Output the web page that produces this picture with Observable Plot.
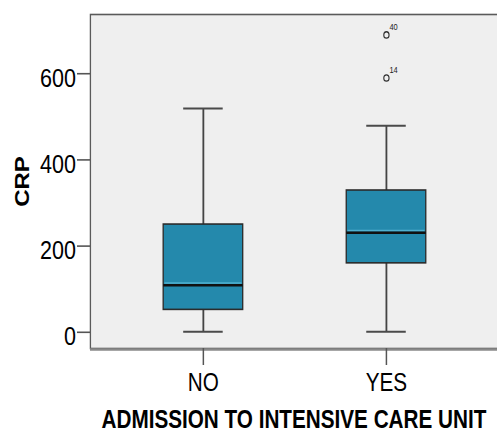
<!DOCTYPE html>
<html>
<head>
<meta charset="utf-8">
<script src="https://cdn.jsdelivr.net/npm/d3@7"></script>
<script src="https://cdn.jsdelivr.net/npm/@observablehq/plot@0.6"></script>
<style>
  html, body { margin: 0; padding: 0; background: white; }
  #chart { width: 497px; height: 433px; overflow: hidden; }
</style>
</head>
<body>
<div id="chart"></div>
<script>
// ---- data ----
const groups = ["NO", "YES"];
const lowerWhisker = [1, 1];
const q1 = [52, 160];
const median = [109, 231];
const q3 = [250, 329];
const upperWhisker = [519, 479];

const outlierGroup = ["YES", "YES"];
const outlierValue = [690, 590];
const outlierLabel = ["40", "14"];

const yTicks = [0, 200, 400, 600];
const yDomain = [-37.6, 737.4];
const xTitle = "ADMISSION TO INTENSIVE CARE UNIT";
const yTitle = "CRP";

// ---- tables built from the arrays ----
const boxes = groups.map((g, i) => ({
  group: g, lo: lowerWhisker[i], q1: q1[i], med: median[i], q3: q3[i], hi: upperWhisker[i]
}));
const outliers = outlierValue.map((v, i) => ({group: outlierGroup[i], value: v, label: outlierLabel[i]}));

// The reference is horizontally condensed: draw wider, then squeeze.
const W = 600, H = 433, OUT_W = 497;
const s = OUT_W / W;
const px = (v) => v / s; // horizontal pixel -> internal units

const boxFill = "#2489ac";

const chart = Plot.plot({
  width: W,
  height: H,
  marginLeft: px(90),
  marginRight: 0,
  marginTop: 14,
  marginBottom: 85,
  style: {fontFamily: "'Liberation Sans', Arial, sans-serif", background: "white", color: "black"},
  x: {type: "band", domain: groups, paddingInner: 0.5666, paddingOuter: 0.3925, align: 0.505},
  y: {domain: yDomain},
  marks: [
    Plot.frame({fill: "#efefef", stroke: "#5a5a5a", strokeWidth: 1.6, insetRight: -4}),
    Plot.ruleY([yDomain[0]], {stroke: "#8a8a8a", strokeWidth: 2.4, dy: 1}),
    // whiskers
    Plot.ruleX(boxes, {x: "group", y1: "q3", y2: "hi", stroke: "#444", strokeWidth: 2.2}),
    Plot.ruleX(boxes, {x: "group", y1: "lo", y2: "q1", stroke: "#444", strokeWidth: 2.2}),
    // caps
    Plot.tickY(boxes, {x: "group", y: "hi", stroke: "#4a4a4a", strokeWidth: 2, insetLeft: px(20), insetRight: px(20)}),
    Plot.tickY(boxes, {x: "group", y: "lo", stroke: "#4a4a4a", strokeWidth: 2, insetLeft: px(20), insetRight: px(20)}),
    // boxes
    Plot.barY(boxes, {x: "group", y1: "q1", y2: "q3", fill: boxFill, stroke: "#2b2b2b", strokeWidth: 1.6}),
    // median
    Plot.tickY(boxes, {x: "group", y: "med", stroke: "#4fb0cf", strokeWidth: 1.5, dy: -2.2, insetLeft: 1.5, insetRight: 1.5}),
    Plot.tickY(boxes, {x: "group", y: "med", stroke: "#111", strokeWidth: 2.4}),
    // outliers
    Plot.dot(outliers, {x: "group", y: "value", r: 3.2, stroke: "#333", strokeWidth: 1.3, fill: "none"}),
    Plot.text(outliers, {x: "group", y: "value", text: "label", dx: px(3), dy: -7.5, textAnchor: "start", fontSize: 9, fill: "#222"}),
    // y axis: tick lines, then labels (labels sit slightly low in the reference)
    Plot.axisY(yTicks, {anchor: "left", tickSize: px(13), stroke: "#555", strokeWidth: 1.6, fill: "none", label: null}),
    Plot.axisY(yTicks, {anchor: "left", tickSize: 0, tickPadding: px(14.5), fontSize: 26, dy: 4.5, stroke: "none", fill: "black", label: null}),
    Plot.axisX({anchor: "bottom", tickSize: 17, tickPadding: 8, fontSize: 25, stroke: "#555", strokeWidth: 1.8, fill: "black", label: null}),
    // titles
    Plot.text([yTitle], {frameAnchor: "left", rotate: -90, dx: px(22.5) - px(90), fontSize: 24, fontWeight: "bold", fill: "black", textAnchor: "middle", lineAnchor: "middle"}),
    Plot.text([xTitle], {frameAnchor: "bottom", dy: 71.5, fontSize: 25, fontWeight: "bold", fill: "black", textAnchor: "middle", lineAnchor: "middle"})
  ]
});

chart.setAttribute("width", OUT_W);
chart.setAttribute("height", H);
chart.setAttribute("preserveAspectRatio", "none");
chart.style.width = OUT_W + "px";
chart.style.height = H + "px";
chart.style.maxWidth = "none";
document.getElementById("chart").appendChild(chart);
</script>
</body>
</html>
